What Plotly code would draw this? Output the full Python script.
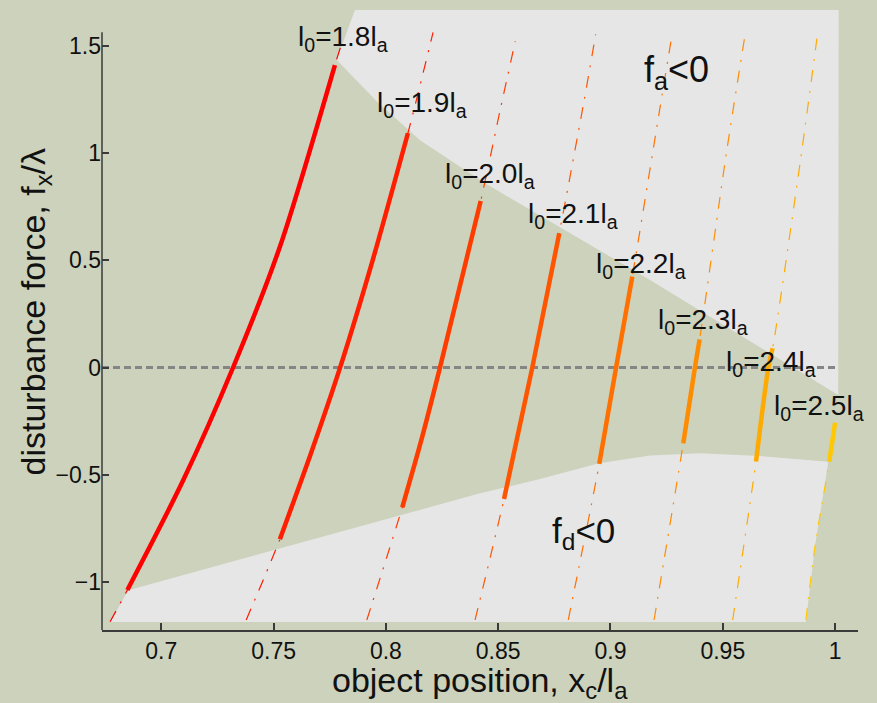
import plotly.graph_objects as go

# ---------------- data ----------------
l0_values = ["1.8", "1.9", "2.0", "2.1", "2.2", "2.3", "2.4", "2.5"]

l18_x = [0.6772, 0.6849, 0.7098, 0.7321, 0.7528, 0.7773, 0.7798]
l18_y = [-1.184, -1.036, -0.524, 0.004, 0.563, 1.410, 1.494]
l18_solid = (1, 5)

l19_x = [0.7378, 0.7528, 0.7666, 0.7796, 0.7941, 0.8098, 0.8210]
l19_y = [-1.176, -0.800, -0.400, 0.000, 0.500, 1.092, 1.562]
l19_solid = (1, 5)

l20_x = [0.7915, 0.8073, 0.8158, 0.8241, 0.8422, 0.8512, 0.8576]
l20_y = [-1.176, -0.651, -0.337, 0.001, 0.776, 1.216, 1.520]
l20_solid = (1, 4)

l21_x = [0.8397, 0.8526, 0.8652, 0.8772, 0.8883, 0.8934]
l21_y = [-1.176, -0.612, 0.001, 0.626, 1.247, 1.553]
l21_solid = (1, 3)

l22_x = [0.8812, 0.8950, 0.9025, 0.9097, 0.9220, 0.9269]
l22_y = [-1.176, -0.449, 0.001, 0.424, 1.208, 1.519]
l22_solid = (1, 3)

l23_x = [0.9194, 0.9324, 0.9376, 0.9397, 0.9518, 0.9596]
l23_y = [-1.176, -0.353, 0.001, 0.132, 1.013, 1.530]
l23_solid = (1, 3)

l24_x = [0.9544, 0.9648, 0.9703, 0.9722, 0.9844, 0.9919]
l24_y = [-1.176, -0.438, 0.001, 0.090, 0.952, 1.533]
l24_solid = (1, 3)

l25_x = [0.9870, 0.9911, 0.9974, 1.0000]
l25_y = [-1.176, -0.829, -0.438, -0.257]
l25_solid = (2, 3)

# region where f_a < 0 (upper) and f_d < 0 (lower)
fa_x = [0.7862, 1.0016, 1.0014, 0.9176, 0.8440, 0.8152, 0.7960, 0.7781]
fa_y = [1.666, 1.666, -0.128, 0.408, 0.860, 1.060, 1.240, 1.433]

fd_x = [0.6772, 0.6853, 0.8419, 0.8686, 0.8949, 0.9176, 0.9398, 0.9666, 0.9970, 0.9911, 0.9870]
fd_y = [-1.186, -1.037, -0.586, -0.519, -0.446, -0.410, -0.399, -0.412, -0.439, -0.829, -1.186]

# label anchor points
label_x = [0.7807, 0.8159, 0.8463, 0.8831, 0.9136, 0.9412, 0.9715, 0.9928]
label_y = [1.535, 1.228, 0.897, 0.711, 0.478, 0.217, 0.021, -0.184]

x_ticks = [0.7, 0.75, 0.8, 0.85, 0.9, 0.95, 1.0]
x_ticktext = ["0.7", "0.75", "0.8", "0.85", "0.9", "0.95", "1"]
y_ticks = [-1, -0.5, 0, 0.5, 1, 1.5]
y_ticktext = ["\u22121", "\u22120.5", "0", "0.5", "1", "1.5"]

x_range = [0.6736, 1.0102]
y_range = [-1.2227, 1.6664]
y_axis_top = 1.5625
zero_line_x = [0.6736, 1.0]
zero_line_y = [0, 0]

# ---------------- styles ----------------
colors = ["#ff0000", "#ff1e00", "#ff3c00", "#ff5500", "#ff7000", "#ff8c00", "#ffaa00", "#ffc800"]
bg = "#ccd2bb"
region_color = "#e6e6e6"
font_family = "Liberation Sans, Arial, sans-serif"

curves = [
    (l18_x, l18_y, l18_solid), (l19_x, l19_y, l19_solid),
    (l20_x, l20_y, l20_solid), (l21_x, l21_y, l21_solid),
    (l22_x, l22_y, l22_solid), (l23_x, l23_y, l23_solid),
    (l24_x, l24_y, l24_solid), (l25_x, l25_y, l25_solid),
]

fig = go.Figure()

fig.add_trace(go.Scatter(x=fa_x, y=fa_y, fill="toself", fillcolor=region_color,
                         line=dict(width=0, color=region_color), mode="lines",
                         hoverinfo="skip", showlegend=False))
fig.add_trace(go.Scatter(x=fd_x, y=fd_y, fill="toself", fillcolor=region_color,
                         line=dict(width=0, color=region_color), mode="lines",
                         hoverinfo="skip", showlegend=False))

fig.add_trace(go.Scatter(x=zero_line_x, y=zero_line_y, mode="lines",
                         line=dict(color="#858585", width=3, dash="7px,4px"),
                         hoverinfo="skip", showlegend=False))

for (cx, cy, (i0, i1)), col in zip(curves, colors):
    fig.add_trace(go.Scatter(x=cx, y=cy, mode="lines",
                             line=dict(color=col, width=1.2, dash="12px,9px,2px,9px", shape="spline", smoothing=0.8),
                             hoverinfo="skip", showlegend=False))
    fig.add_trace(go.Scatter(x=cx[i0:i1 + 1], y=cy[i0:i1 + 1], mode="lines",
                             line=dict(color=col, width=4.5, shape="spline", smoothing=0.8),
                             hoverinfo="skip", showlegend=False))

annotations = []
for v, lx, ly in zip(l0_values, label_x, label_y):
    annotations.append(dict(x=lx, y=ly, xref="x", yref="y", showarrow=False,
                            text="l<sub>0</sub>=" + v + "l<sub>a</sub>",
                            font=dict(size=28, color="#111111", family=font_family),
                            xanchor="center", yanchor="middle"))

annotations.append(dict(x=0.9296, y=1.377, xref="x", yref="y", showarrow=False,
                        text="f<sub>a</sub>&lt;0", font=dict(size=36, color="#111111", family=font_family),
                        xanchor="center", yanchor="middle"))
annotations.append(dict(x=0.8882, y=-0.771, xref="x", yref="y", showarrow=False,
                        text="f<sub>d</sub>&lt;0", font=dict(size=35, color="#111111", family=font_family),
                        xanchor="center", yanchor="middle"))

# axis titles
annotations.append(dict(x=0.5, y=0, xref="paper", yref="paper", showarrow=False,
                        text="object position, x<sub>c</sub>/l<sub>a</sub>",
                        font=dict(size=34, color="#111111", family=font_family),
                        xanchor="center", yanchor="top", yshift=-29))
annotations.append(dict(x=0, y=0.5, xref="paper", yref="paper", showarrow=False,
                        text="disturbance force, f<sub>x</sub>/\u03bb", textangle=-90,
                        font=dict(size=34, color="#111111", family=font_family),
                        xanchor="right", yanchor="middle", xshift=-44, yshift=8))

fig.update_layout(
    width=877, height=703,
    paper_bgcolor=bg, plot_bgcolor=bg,
    margin=dict(l=102, r=19, t=10, b=73),
    showlegend=False,
    annotations=annotations,
    font=dict(family=font_family, color="#111111"),
    shapes=[dict(type="line", xref="paper", yref="y", x0=0, x1=0,
                 y0=y_range[0], y1=y_axis_top, line=dict(color="#3a3a3a", width=1.5), layer="above")],
)
fig.update_xaxes(range=x_range, showgrid=False, zeroline=False, showline=True,
                 linecolor="#3a3a3a", linewidth=1.5, ticks="inside", ticklen=7, tickwidth=1.5,
                 tickcolor="#3a3a3a", tickvals=x_ticks, ticktext=x_ticktext,
                 tickfont=dict(size=23, color="#111111", family=font_family))
fig.update_yaxes(range=y_range, showgrid=False, zeroline=False, showline=False,
                 ticks="inside", ticklen=7, tickwidth=1.5, tickcolor="#3a3a3a",
                 tickvals=y_ticks, ticktext=y_ticktext,
                 tickfont=dict(size=23, color="#111111", family=font_family))

fig.write_html("out.html", config={"displayModeBar": False},
               post_script="document.body.style.margin='0';document.body.style.background='" + bg + "';")
